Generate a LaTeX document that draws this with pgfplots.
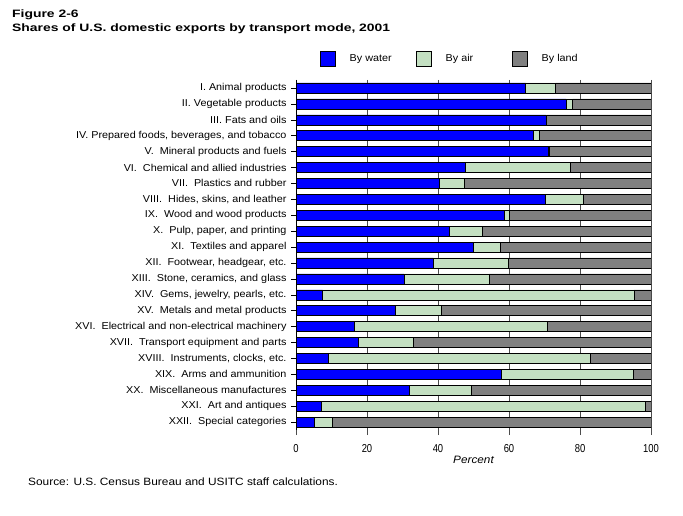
\documentclass[border=0pt]{standalone}
\usepackage{fontspec}
\setmainfont{Liberation Sans}
\newfontfamily\titlefont[FakeStretch=1.3]{Liberation Sans}
\newfontfamily\tickfont[FakeStretch=0.82]{Liberation Sans}
\newfontfamily\labfont[FakeStretch=1.08]{Liberation Sans}
\newfontfamily\srcfont[FakeStretch=1.12]{Liberation Sans}
\newfontfamily\pctfont[FakeStretch=1.1]{Liberation Sans}
\usepackage{pgfplots}
\pgfplotsset{compat=1.18}
\definecolor{cwater}{RGB}{0,0,255}
\definecolor{cair}{RGB}{196,224,194}
\definecolor{cland}{RGB}{128,128,128}
\begin{document}
\begin{tikzpicture}
\useasboundingbox (0,0) rectangle (683pt,516pt);
\node[anchor=base west,inner sep=0pt,font=\titlefont\fontsize{10.7}{12}\selectfont\bfseries] at (12pt,498.7pt) {Figure 2-6};
\node[anchor=base west,inner sep=0pt,font=\titlefont\fontsize{10.7}{12}\selectfont\bfseries] at (12pt,484pt) {Shares of U.S. domestic exports by transport mode, 2001};
\node[anchor=base west,inner sep=0pt,font=\srcfont\fontsize{10.6}{12}\selectfont] at (28pt,30.7pt) {Source: U.S. Census Bureau and USITC staff calculations.};
\begin{axis}[
  at={(296pt,86pt)}, anchor=south west,
  scale only axis, width=355pt, height=350pt,
  xbar stacked, bar width=10pt,
  xmin=0, xmax=100, ymin=0.5, ymax=22.5,
  y dir=reverse,
  axis lines*=left,
  x axis line style={draw=none},
  y axis line style={draw=black, line width=0.6pt},
  xtick={0,20,...,100},
  xmajorgrids, grid style={draw=black!70, line width=0.5pt},
  xtick style={draw=black!70, line width=0.5pt},
  ytick={1,...,22},
  tick align=outside,
  ytick style={draw=black, line width=0.5pt},
  major tick length=5pt,
  /pgf/number format/assume math mode=true,
  xticklabel style={font=\tickfont\fontsize{11.5}{13}\selectfont, anchor=base, yshift=-17pt},
  yticklabel style={font=\labfont\fontsize{10}{11}\selectfont, xshift=-1pt},
  xlabel={Percent},
  xlabel style={font=\pctfont\itshape\fontsize{10.7}{12}\selectfont, at={(axis description cs:0.5,0)}, anchor=base, yshift=-33.7pt},
  yticklabels={
    I. Animal products,
    II. Vegetable products,
    III. Fats and oils,
    {IV. Prepared foods, beverages, and tobacco},
    V.\ \ Mineral products and fuels,
    VI.\ \ Chemical and allied industries,
    VII.\ \ Plastics and rubber,
    {VIII.\ \ Hides, skins, and leather},
    IX.\ \ Wood and wood products,
    {X.\ \ Pulp, paper, and printing},
    XI.\ \ Textiles and apparel,
    {XII.\ \ Footwear, headgear, etc.},
    {XIII.\ \ Stone, ceramics, and glass},
    {XIV.\ \ Gems, jewelry, pearls, etc.},
    XV.\ \ Metals and metal products,
    XVI.\ \ Electrical and non-electrical machinery,
    XVII.\ \ Transport equipment and parts,
    {XVIII.\ \ Instruments, clocks, etc.},
    XIX.\ \ Arms and ammunition,
    XX.\ \ Miscellaneous manufactures,
    XXI.\ \ Art and antiques,
    XXII.\ \ Special categories},
  legend columns=3,
  legend style={draw=none, fill=none, at={(axis description cs:0,1)}, anchor=south west,
    xshift=21pt, yshift=11.5pt,
    font=\labfont\fontsize{10}{11}\selectfont,
    /tikz/every even column/.append style={column sep=0pt}},
  legend image code/.code={\draw[#1, line width=0.5pt] (0pt,-7.5pt) rectangle (15pt,7.5pt);},
]
\addplot[fill=cwater, draw=black, line width=0.5pt] coordinates {
(64.7,1) (76.1,2) (70.4,3) (66.9,4) (71.0,5) (47.6,6) (40.3,7) (70.3,8) (58.8,9) (43.1,10) (49.8,11)
(38.7,12) (30.4,13) (7.5,14) (28.0,15) (16.5,16) (17.6,17) (9.0,18) (57.8,19) (32.0,20) (7.0,21) (5.1,22)};
\addlegendentry{\makebox[76.5pt][l]{\hspace{12pt}By water}}
\addplot[fill=cair, draw=black, line width=0.5pt] coordinates {
(8.4,1) (1.8,2) (0.2,3) (1.5,4) (0.2,5) (29.7,6) (7.0,7) (10.6,8) (1.3,9) (9.5,10) (7.6,11)
(21.2,12) (24.0,13) (87.7,14) (12.8,15) (54.3,16) (15.4,17) (74.0,18) (37.2,19) (17.4,20) (91.5,21) (5.0,22)};
\addlegendentry{\makebox[76.5pt][l]{\hspace{12pt}By air}}
\addplot[fill=cland, draw=black, line width=0.5pt] coordinates {
(26.9,1) (22.1,2) (29.4,3) (31.6,4) (28.8,5) (22.7,6) (52.7,7) (19.1,8) (39.9,9) (47.4,10) (42.6,11)
(40.1,12) (45.6,13) (4.8,14) (59.2,15) (29.2,16) (67.0,17) (17.0,18) (5.0,19) (50.6,20) (1.5,21) (89.9,22)};
\addlegendentry{\makebox[76.5pt][l]{\hspace{12pt}By land}}
\end{axis}
\end{tikzpicture}
\end{document}
